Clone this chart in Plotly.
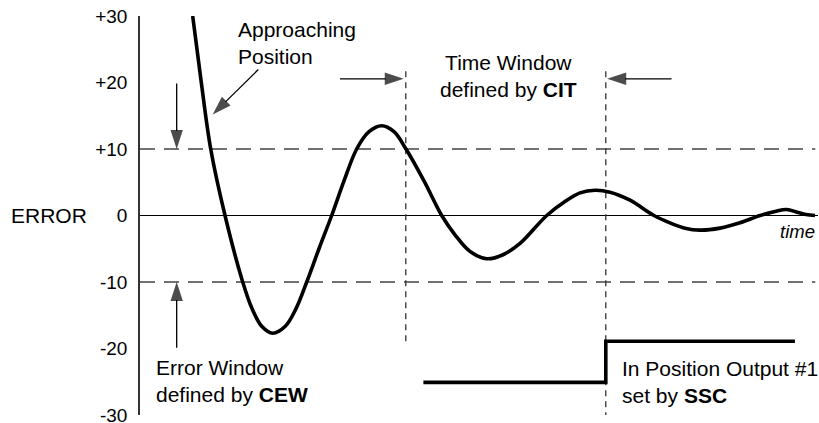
import plotly.graph_objects as go

# ---------------- data ----------------
time_pts = [7.77, 9.04, 10.43, 12.54, 15.15, 16.52, 17.99, 19.57, 21.39, 23.01,
            24.59, 26.40, 28.27, 30.09, 31.96, 33.78, 35.65, 37.46, 39.23, 41.89,
            44.50, 46.46, 48.67, 51.14, 53.54, 56.05, 59.99, 62.68, 64.90, 67.11,
            69.32, 72.27, 75.81, 78.17, 80.38, 82.60, 85.55, 88.50, 91.45, 93.66,
            95.38, 96.90, 98.23, 99.56]
error_pts = [30, 20, 10, 0, -10, -14.0, -16.7, -17.7, -16.7, -14.0,
             -10, -5.0, 0, 5.2, 10, 12.6, 13.5, 12.6, 10, 5.2,
             0, -2.9, -5.4, -6.5, -5.9, -4.2, 0, 2.1, 3.4, 3.8,
             3.5, 2.3, 0, -1.1, -1.9, -2.2, -1.9, -1.1, 0, 0.6,
             0.9, 0.5, 0.15, 0]

error_window = [10, -10]            # CEW band (+/-)
cit_start = [39.2, 21.7, -18.9]     # time, top, bottom of CIT start marker
cit_end = [68.7, 21.7, -30.0]       # time, top, bottom of CIT end marker

output_time = [41.8, 68.7, 68.7, 96.6]
output_level = [-25.1, -25.1, -18.9, -18.9]

y_ticks = [-30, -20, -10, 0, 10, 20, 30]
y_tick_labels = ["-30", "-20", "-10", "0", "+10", "+20", "+30"]

t_min, t_max = 0, 100
# -------------------------------------------------------------

FONT = "Liberation Sans, Arial, Helvetica, sans-serif"

fig = go.Figure()

# error window dashed lines
for lvl in error_window:
    fig.add_trace(go.Scatter(x=[t_min, 99.6], y=[lvl, lvl], mode="lines",
                             line=dict(color="#444", width=1.3, dash="15px,9px"),
                             hoverinfo="skip"))

# CIT time-window dotted verticals
for t, top, bot in (cit_start, cit_end):
    fig.add_trace(go.Scatter(x=[t, t], y=[top, bot], mode="lines",
                             line=dict(color="#333", width=1.3, dash="6px,5px"),
                             hoverinfo="skip"))

# error curve
fig.add_trace(go.Scatter(x=time_pts, y=error_pts, mode="lines",
                         line=dict(color="black", width=3.6, shape="spline", smoothing=1.0),
                         hoverinfo="skip"))

# in-position output step
fig.add_trace(go.Scatter(x=output_time, y=output_level, mode="lines",
                         line=dict(color="black", width=3.6),
                         hoverinfo="skip"))

# arrows (tail -> tip)
arrows = [
    ((17.45, 21.95), (10.72, 15.19)),
    ((5.41, 19.85), (5.41, 10.0)),
    ((5.41, -19.9), (5.41, -10.0)),
    ((29.5, 20.56), (38.9, 20.56)),
    ((78.4, 20.56), (68.9, 20.56)),
]
for (x0, y0), (x1, y1) in arrows:
    fig.add_trace(go.Scatter(x=[x0, x1], y=[y0, y1], mode="lines+markers",
                             line=dict(color="black", width=1.3),
                             marker=dict(symbol="arrow", size=[0, 20], color="black",
                                         angleref="previous", line=dict(width=0)),
                             hoverinfo="skip"))

ann_font = dict(family=FONT, size=21, color="black")
annotations = [
    dict(x=14.2, y=25.97, text="Approaching<br>Position", xanchor="left", align="left"),
    dict(x=54.3, y=20.95, text="Time Window<br>defined by <b>CIT</b>", xanchor="center", align="center"),
    dict(x=2.0, y=-24.9, text="Error Window<br>defined by <b>CEW</b>", xanchor="left", align="left"),
    dict(x=70.8, y=-25.0, text="In Position Output #1<br>set by <b>SSC</b>", xanchor="left", align="left"),
]
for a in annotations:
    a.update(xref="x", yref="y", yanchor="middle", showarrow=False, font=ann_font)

annotations.append(dict(x=99.9, y=-2.4, xref="x", yref="y", text="<i>time</i>",
                        xanchor="right", yanchor="middle", showarrow=False,
                        font=dict(family=FONT, size=18.5, color="black")))
annotations.append(dict(x=-0.1929, y=0, xref="paper", yref="y", text="ERROR",
                        xanchor="left", yanchor="middle", showarrow=False, font=ann_font))

fig.update_layout(
    width=819, height=423,
    margin=dict(l=140, r=1, t=16, b=8, autoexpand=False),
    paper_bgcolor="white", plot_bgcolor="white",
    showlegend=False,
    annotations=annotations,
    font=dict(family=FONT, color="black"),
    xaxis=dict(range=[t_min, t_max], visible=False, fixedrange=True, automargin=False),
    yaxis=dict(range=[-30, 30], tickvals=y_ticks, ticktext=y_tick_labels,
               tickfont=dict(family=FONT, size=19, color="black"),
               showgrid=False, zeroline=True, zerolinecolor="black", zerolinewidth=1,
               showline=True, linecolor="#333", linewidth=1.5,
               ticks="", ticklabelstandoff=7, ticklabeloverflow="allow",
               automargin=False, fixedrange=True),
)

fig.write_html("out.html", config={"displayModeBar": False},
               post_script="document.body.style.margin='0';document.body.style.overflow='hidden';")
